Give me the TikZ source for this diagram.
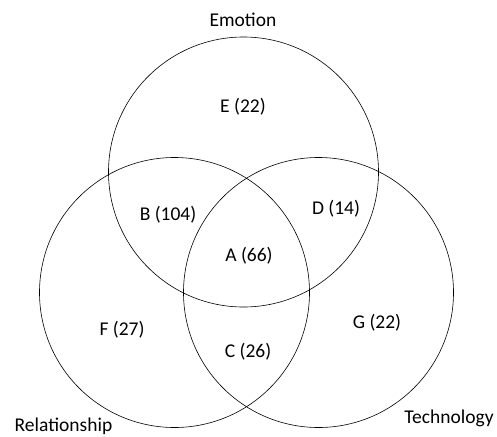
\documentclass[tikz,border=0pt]{standalone}
\usepackage{fontspec}
\setmainfont{Carlito}
\usepackage{tikz}
\usetikzlibrary{positioning}

\tikzset{
  setcirc/.style={circle,draw,line width=0.6pt,minimum size=270pt,inner sep=0pt},
  lab/.style={inner sep=0pt,font=\fontsize{19.5}{23}\selectfont}
}

\begin{document}
\begin{tikzpicture}[x=1pt,y=-1pt]
  \useasboundingbox (0,0) rectangle (497,436);
  % the three sets
  \node[setcirc] (emo) at (243.5,172) {};
  \node[setcirc] (rel) at (174.5,292.5) {};
  \node[setcirc] (tec) at (318.5,292.5) {};
  % set names
  \node[lab] (emoname) at (243,20) {Emotion};
  \node[lab] (relname) at (63.5,426.5) {Relationship};
  \node[lab] (tecname) at (449,418) {Technology};
  % regions
  \foreach \n/\x/\y/\lab in {E/243/107/E (22),B/168/215/B (104),D/336/209/D (14),
      A/249/256/A (66),F/122/330/F (27),G/377/323/G (22),C/248/352/C (26)}
    {\node[lab] (reg\n) at (\x,\y) {\lab};}
\end{tikzpicture}
\end{document}
